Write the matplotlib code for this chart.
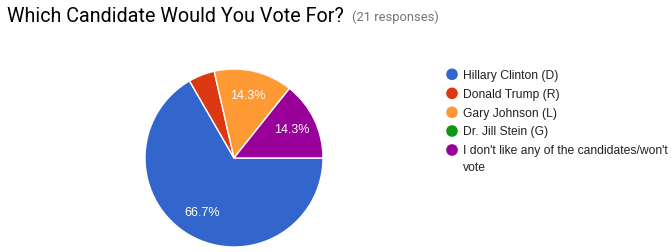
import matplotlib
matplotlib.use("Agg")
import matplotlib.pyplot as plt

title = "Which Candidate Would You Vote For?"
subtitle = "(21 responses)"
labels = ["Hillary Clinton (D)", "Donald Trump (R)", "Gary Johnson (L)",
          "Dr. Jill Stein (G)", "I don't like any of the candidates/won't\nvote"]
counts = [14, 1, 3, 0, 3]
colors = ["#3366cc", "#dc3912", "#ff9933", "#109618", "#990099"]

W, H = 672, 252
fig = plt.figure(figsize=(W / 100, H / 100), dpi=100)

# pie axes: center (234,158), radius 89 px
cx, cy, r = 234, 158, 89
ax = fig.add_axes([(cx - r) / W, (H - cy - r) / H, 2 * r / W, 2 * r / H])

def fmt(p):
    return f"{p:.1f}%" if p >= 8 else ""

wedges, texts, autotexts = ax.pie(
    counts, colors=colors, startangle=0, counterclock=False,
    autopct=fmt, pctdistance=0.72,
    wedgeprops=dict(edgecolor="white", linewidth=1),
    textprops=dict(color="white", fontsize=9, family="Liberation Sans"))
ax.set_xlim(-1, 1)
ax.set_ylim(-1, 1)
ax.set_aspect("equal")
ax.axis("off")

# overlay in pixel coordinates
ov = fig.add_axes([0, 0, 1, 1])
ov.set_xlim(0, W)
ov.set_ylim(H, 0)
ov.axis("off")

ov.text(7, 21.5, title, fontsize=14.2, family="Roboto", color="#000000",
        va="baseline", ha="left")
ov.text(352, 21, subtitle, fontsize=9.3, family="Roboto", color="#757575",
        va="baseline", ha="left")

row_y = [74.3, 93.3, 112.3, 131.0, 150.0]
line_gap = 16.7
for lab, col, y in zip(labels, colors, row_y):
    ov.scatter([452], [y], s=70, color=col, edgecolors="none")
    for k, line in enumerate(lab.split("\n")):
        ov.text(463, y + 4.3 + k * line_gap, line, fontsize=8.7,
                family="Liberation Sans", color="#222222",
                va="baseline", ha="left")

fig.savefig("out.png", dpi=100)
